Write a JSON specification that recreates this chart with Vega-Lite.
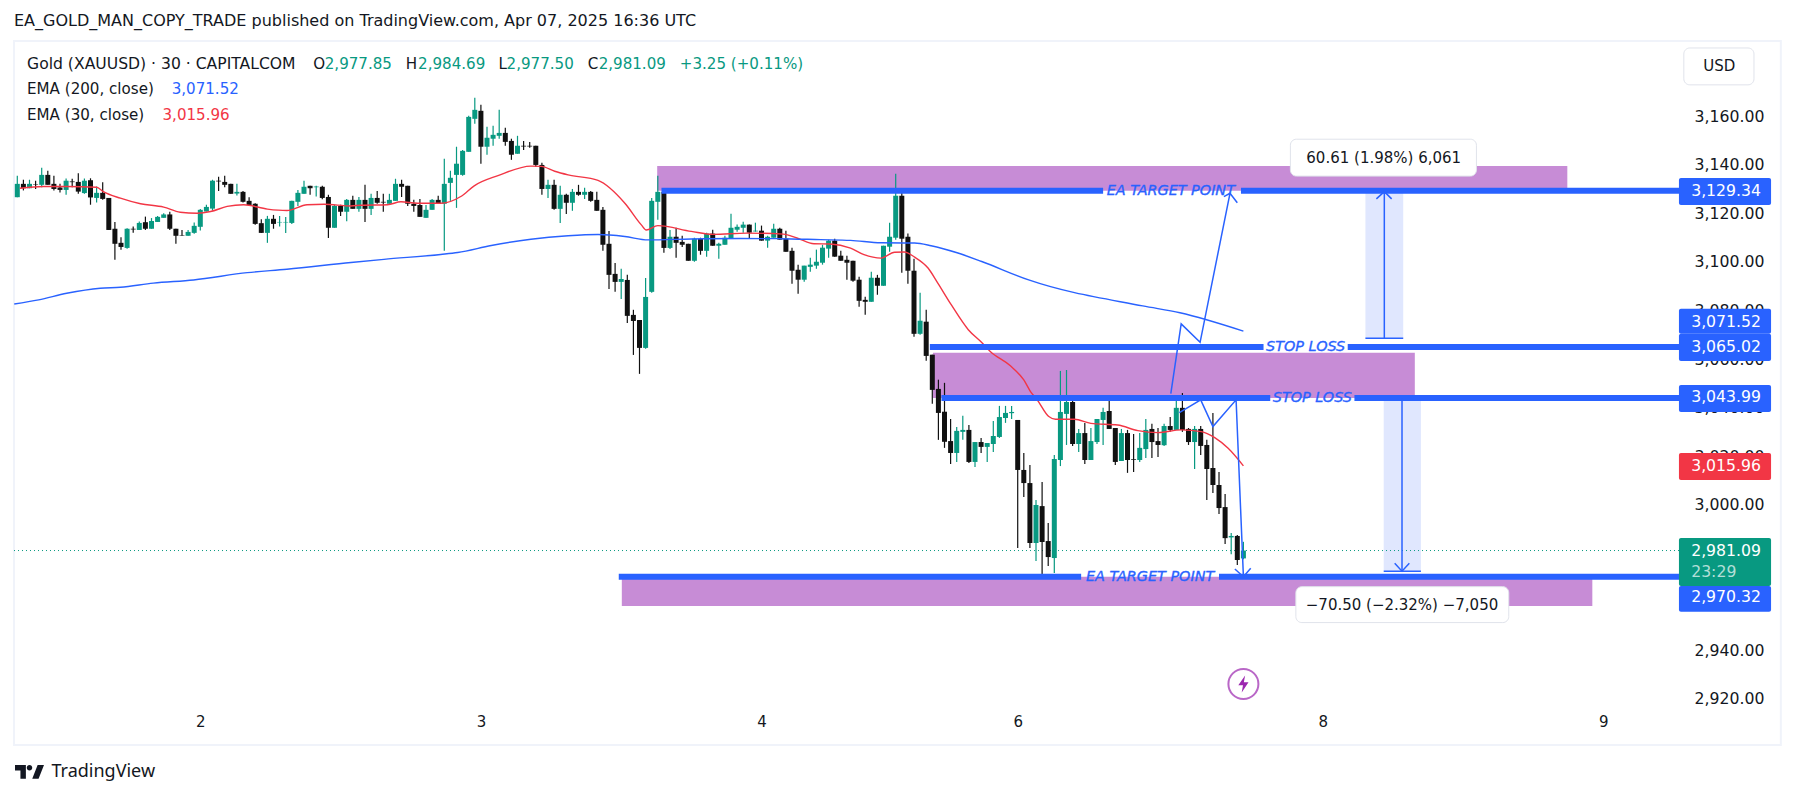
{"$schema":"https://vega.github.io/schema/vega-lite/v6.json","width":1668,"height":666,"autosize":"none","padding":{"left":14,"top":42,"right":111,"bottom":90},"background":"white",
"title":{"text":"EA_GOLD_MAN_COPY_TRADE published on TradingView.com, Apr 07, 2025 16:36 UTC","anchor":"start","frame":"group","font":"DejaVu Sans","fontSize":16,"fontWeight":"normal","color":"#131722","offset":11},
"config":{"view":{"stroke":null},"font":"DejaVu Sans"},
"datasets":{
"ohlc":[{"i":0,"o":3126.7,"h":3135.5,"l":3126.7,"c":3132.2},{"i":1,"o":3132.2,"h":3133.9,"l":3129.5,"c":3130.4},{"i":2,"o":3130.4,"h":3133.9,"l":3130.4,"c":3132.2},{"i":3,"o":3132.0,"h":3133.5,"l":3130.1,"c":3131.8},{"i":4,"o":3131.8,"h":3138.8,"l":3130.8,"c":3135.9},{"i":5,"o":3135.9,"h":3137.6,"l":3131.8,"c":3131.8},{"i":6,"o":3132.2,"h":3135.5,"l":3129.5,"c":3130.1},{"i":7,"o":3130.7,"h":3132.2,"l":3128.6,"c":3129.7},{"i":8,"o":3129.7,"h":3134.4,"l":3127.7,"c":3133.5},{"i":9,"o":3133.2,"h":3134.3,"l":3130.8,"c":3132.9},{"i":10,"o":3133.0,"h":3136.6,"l":3128.1,"c":3129.0},{"i":11,"o":3128.4,"h":3134.4,"l":3128.1,"c":3133.5},{"i":12,"o":3133.7,"h":3134.5,"l":3123.6,"c":3126.6},{"i":13,"o":3126.4,"h":3131.1,"l":3124.5,"c":3128.5},{"i":14,"o":3128.5,"h":3132.9,"l":3125.6,"c":3126.0},{"i":15,"o":3126.4,"h":3126.4,"l":3113.2,"c":3113.2},{"i":16,"o":3113.7,"h":3116.5,"l":3100.9,"c":3107.5},{"i":17,"o":3107.9,"h":3110.2,"l":3105.0,"c":3106.2},{"i":18,"o":3105.8,"h":3113.9,"l":3105.5,"c":3113.7},{"i":19,"o":3113.7,"h":3114.6,"l":3112.1,"c":3113.4},{"i":20,"o":3113.2,"h":3116.7,"l":3113.2,"c":3116.1},{"i":21,"o":3116.4,"h":3118.7,"l":3113.2,"c":3113.7},{"i":22,"o":3113.7,"h":3118.1,"l":3113.7,"c":3116.9},{"i":23,"o":3116.5,"h":3119.0,"l":3116.5,"c":3118.6},{"i":24,"o":3118.2,"h":3120.1,"l":3118.2,"c":3119.6},{"i":25,"o":3119.6,"h":3120.7,"l":3113.2,"c":3113.7},{"i":26,"o":3113.7,"h":3113.7,"l":3107.5,"c":3110.8},{"i":27,"o":3111.0,"h":3113.2,"l":3110.8,"c":3110.8},{"i":28,"o":3110.8,"h":3113.2,"l":3110.8,"c":3112.4},{"i":29,"o":3112.0,"h":3116.3,"l":3111.6,"c":3114.9},{"i":30,"o":3114.5,"h":3121.8,"l":3113.0,"c":3121.5},{"i":31,"o":3120.8,"h":3123.6,"l":3120.8,"c":3122.7},{"i":32,"o":3122.0,"h":3133.9,"l":3121.2,"c":3133.5},{"i":33,"o":3133.5,"h":3135.1,"l":3129.3,"c":3133.2},{"i":34,"o":3133.0,"h":3135.5,"l":3130.8,"c":3131.8},{"i":35,"o":3132.2,"h":3132.2,"l":3128.1,"c":3128.1},{"i":36,"o":3128.2,"h":3132.2,"l":3127.4,"c":3128.9},{"i":37,"o":3128.9,"h":3129.3,"l":3124.5,"c":3124.8},{"i":38,"o":3125.2,"h":3126.7,"l":3123.1,"c":3123.5},{"i":39,"o":3124.0,"h":3124.2,"l":3115.3,"c":3115.7},{"i":40,"o":3116.0,"h":3117.6,"l":3112.0,"c":3112.0},{"i":41,"o":3112.0,"h":3119.0,"l":3107.9,"c":3117.8},{"i":42,"o":3117.8,"h":3119.4,"l":3113.7,"c":3115.7},{"i":43,"o":3116.3,"h":3119.0,"l":3114.6,"c":3116.5},{"i":44,"o":3116.3,"h":3118.5,"l":3112.0,"c":3116.5},{"i":45,"o":3116.1,"h":3125.2,"l":3115.7,"c":3125.2},{"i":46,"o":3124.8,"h":3129.7,"l":3123.1,"c":3128.5},{"i":47,"o":3128.1,"h":3133.5,"l":3128.1,"c":3131.0},{"i":48,"o":3131.4,"h":3131.4,"l":3127.7,"c":3130.4},{"i":49,"o":3130.8,"h":3131.4,"l":3127.0,"c":3131.1},{"i":50,"o":3131.0,"h":3131.4,"l":3125.9,"c":3126.4},{"i":51,"o":3126.8,"h":3127.7,"l":3109.9,"c":3114.1},{"i":52,"o":3114.1,"h":3123.6,"l":3114.1,"c":3123.1},{"i":53,"o":3123.1,"h":3123.6,"l":3119.0,"c":3120.7},{"i":54,"o":3120.7,"h":3126.0,"l":3116.8,"c":3125.6},{"i":55,"o":3125.6,"h":3127.3,"l":3121.9,"c":3121.9},{"i":56,"o":3121.9,"h":3126.8,"l":3120.7,"c":3125.6},{"i":57,"o":3125.6,"h":3131.8,"l":3116.5,"c":3121.9},{"i":58,"o":3121.9,"h":3128.1,"l":3119.4,"c":3126.4},{"i":59,"o":3126.4,"h":3129.3,"l":3124.0,"c":3124.4},{"i":60,"o":3124.8,"h":3128.1,"l":3120.7,"c":3124.5},{"i":61,"o":3124.0,"h":3128.1,"l":3124.0,"c":3125.6},{"i":62,"o":3125.2,"h":3134.3,"l":3125.2,"c":3132.2},{"i":63,"o":3132.2,"h":3133.9,"l":3126.8,"c":3131.0},{"i":64,"o":3131.4,"h":3131.4,"l":3123.1,"c":3124.0},{"i":65,"o":3124.0,"h":3125.6,"l":3120.7,"c":3123.1},{"i":66,"o":3123.5,"h":3126.0,"l":3118.6,"c":3118.6},{"i":67,"o":3118.2,"h":3123.5,"l":3118.2,"c":3121.5},{"i":68,"o":3121.5,"h":3126.0,"l":3121.5,"c":3125.6},{"i":69,"o":3125.6,"h":3127.3,"l":3124.0,"c":3124.0},{"i":70,"o":3124.0,"h":3142.5,"l":3104.6,"c":3132.2},{"i":71,"o":3132.6,"h":3137.6,"l":3125.2,"c":3134.7},{"i":72,"o":3135.9,"h":3147.5,"l":3122.3,"c":3140.5},{"i":73,"o":3135.9,"h":3146.2,"l":3135.5,"c":3145.8},{"i":74,"o":3145.4,"h":3160.3,"l":3145.4,"c":3159.8},{"i":75,"o":3159.0,"h":3167.7,"l":3157.0,"c":3162.7},{"i":76,"o":3162.3,"h":3164.8,"l":3140.5,"c":3147.5},{"i":77,"o":3147.5,"h":3155.7,"l":3144.2,"c":3151.2},{"i":78,"o":3150.8,"h":3156.1,"l":3147.9,"c":3152.4},{"i":79,"o":3152.0,"h":3162.7,"l":3150.8,"c":3153.2},{"i":80,"o":3153.2,"h":3155.3,"l":3147.9,"c":3149.5},{"i":81,"o":3149.9,"h":3150.8,"l":3142.1,"c":3144.2},{"i":82,"o":3144.6,"h":3152.0,"l":3144.6,"c":3147.9},{"i":83,"o":3147.9,"h":3149.9,"l":3146.2,"c":3147.6},{"i":84,"o":3147.9,"h":3149.5,"l":3147.1,"c":3147.6},{"i":85,"o":3147.9,"h":3147.9,"l":3139.2,"c":3140.0},{"i":86,"o":3140.0,"h":3140.9,"l":3127.7,"c":3130.1},{"i":87,"o":3130.1,"h":3133.9,"l":3126.4,"c":3131.8},{"i":88,"o":3131.8,"h":3133.9,"l":3121.5,"c":3121.9},{"i":89,"o":3121.9,"h":3131.4,"l":3116.1,"c":3127.7},{"i":90,"o":3127.7,"h":3128.1,"l":3119.8,"c":3124.4},{"i":91,"o":3124.4,"h":3130.1,"l":3121.1,"c":3128.9},{"i":92,"o":3128.9,"h":3131.8,"l":3127.3,"c":3127.7},{"i":93,"o":3127.7,"h":3130.6,"l":3126.0,"c":3128.9},{"i":94,"o":3128.9,"h":3129.3,"l":3124.8,"c":3125.2},{"i":95,"o":3125.6,"h":3128.9,"l":3121.1,"c":3121.1},{"i":96,"o":3121.5,"h":3122.7,"l":3104.6,"c":3107.1},{"i":97,"o":3107.5,"h":3112.8,"l":3088.9,"c":3094.7},{"i":98,"o":3095.1,"h":3099.6,"l":3087.7,"c":3091.8},{"i":99,"o":3091.8,"h":3097.2,"l":3084.8,"c":3093.0},{"i":100,"o":3092.6,"h":3094.7,"l":3074.9,"c":3077.8},{"i":101,"o":3078.2,"h":3080.3,"l":3061.7,"c":3075.7},{"i":102,"o":3076.1,"h":3076.1,"l":3053.9,"c":3064.6},{"i":103,"o":3064.6,"h":3093.4,"l":3064.2,"c":3085.6},{"i":104,"o":3087.7,"h":3126.4,"l":3087.3,"c":3125.2},{"i":105,"o":3124.8,"h":3135.5,"l":3117.4,"c":3128.9},{"i":106,"o":3128.9,"h":3129.7,"l":3103.8,"c":3105.8},{"i":107,"o":3105.8,"h":3113.2,"l":3105.4,"c":3110.4},{"i":108,"o":3110.4,"h":3114.1,"l":3101.7,"c":3107.9},{"i":109,"o":3108.3,"h":3110.8,"l":3106.2,"c":3107.1},{"i":110,"o":3107.5,"h":3107.5,"l":3100.5,"c":3100.5},{"i":111,"o":3100.5,"h":3110.0,"l":3100.1,"c":3109.6},{"i":112,"o":3109.6,"h":3110.0,"l":3103.0,"c":3104.6},{"i":113,"o":3104.6,"h":3112.1,"l":3102.2,"c":3111.7},{"i":114,"o":3111.7,"h":3113.3,"l":3106.7,"c":3106.7},{"i":115,"o":3106.7,"h":3107.9,"l":3101.3,"c":3107.5},{"i":116,"o":3107.1,"h":3110.8,"l":3107.1,"c":3110.0},{"i":117,"o":3109.6,"h":3119.9,"l":3109.6,"c":3114.1},{"i":118,"o":3113.3,"h":3115.4,"l":3112.5,"c":3114.5},{"i":119,"o":3114.1,"h":3116.6,"l":3112.1,"c":3115.4},{"i":120,"o":3115.4,"h":3115.4,"l":3109.6,"c":3112.1},{"i":121,"o":3112.6,"h":3116.2,"l":3112.5,"c":3112.9},{"i":122,"o":3112.9,"h":3115.0,"l":3108.8,"c":3108.8},{"i":123,"o":3108.8,"h":3110.8,"l":3105.9,"c":3110.4},{"i":124,"o":3110.0,"h":3115.8,"l":3110.0,"c":3113.7},{"i":125,"o":3113.7,"h":3114.1,"l":3109.2,"c":3109.2},{"i":126,"o":3109.6,"h":3112.9,"l":3104.2,"c":3104.2},{"i":127,"o":3104.6,"h":3105.9,"l":3091.0,"c":3096.4},{"i":128,"o":3096.8,"h":3098.9,"l":3086.9,"c":3092.7},{"i":129,"o":3092.7,"h":3098.5,"l":3091.9,"c":3098.5},{"i":130,"o":3098.0,"h":3101.8,"l":3096.0,"c":3098.9},{"i":131,"o":3098.5,"h":3105.1,"l":3097.2,"c":3100.1},{"i":132,"o":3099.7,"h":3107.1,"l":3098.9,"c":3105.9},{"i":133,"o":3105.5,"h":3109.2,"l":3101.8,"c":3108.8},{"i":134,"o":3108.8,"h":3109.6,"l":3102.2,"c":3102.2},{"i":135,"o":3102.6,"h":3104.6,"l":3100.5,"c":3100.5},{"i":136,"o":3100.9,"h":3102.6,"l":3092.7,"c":3099.7},{"i":137,"o":3100.5,"h":3100.5,"l":3091.9,"c":3092.3},{"i":138,"o":3092.7,"h":3093.9,"l":3081.6,"c":3084.0},{"i":139,"o":3084.4,"h":3085.7,"l":3078.3,"c":3083.6},{"i":140,"o":3083.6,"h":3096.0,"l":3083.6,"c":3093.5},{"i":141,"o":3093.5,"h":3094.7,"l":3086.5,"c":3090.2},{"i":142,"o":3090.2,"h":3106.7,"l":3090.2,"c":3106.7},{"i":143,"o":3106.3,"h":3116.2,"l":3104.2,"c":3110.4},{"i":144,"o":3110.0,"h":3136.4,"l":3109.2,"c":3127.3},{"i":145,"o":3127.3,"h":3129.4,"l":3095.6,"c":3109.6},{"i":146,"o":3110.4,"h":3111.7,"l":3091.0,"c":3096.4},{"i":147,"o":3096.4,"h":3101.3,"l":3069.2,"c":3070.4},{"i":148,"o":3070.4,"h":3087.3,"l":3070.0,"c":3075.8},{"i":149,"o":3075.4,"h":3080.3,"l":3059.3,"c":3061.3},{"i":150,"o":3061.8,"h":3061.8,"l":3041.6,"c":3047.3},{"i":151,"o":3047.7,"h":3051.5,"l":3026.7,"c":3037.8},{"i":152,"o":3038.3,"h":3050.2,"l":3023.4,"c":3025.9},{"i":153,"o":3026.2,"h":3035.3,"l":3016.8,"c":3021.3},{"i":154,"o":3021.3,"h":3032.0,"l":3017.6,"c":3030.4},{"i":155,"o":3030.0,"h":3036.6,"l":3026.7,"c":3030.8},{"i":156,"o":3030.8,"h":3032.8,"l":3017.2,"c":3017.6},{"i":157,"o":3017.6,"h":3025.8,"l":3015.5,"c":3025.8},{"i":158,"o":3025.8,"h":3027.5,"l":3021.3,"c":3023.8},{"i":159,"o":3023.8,"h":3025.4,"l":3017.6,"c":3025.4},{"i":160,"o":3025.0,"h":3034.5,"l":3021.7,"c":3028.3},{"i":161,"o":3027.9,"h":3040.7,"l":3027.5,"c":3036.1},{"i":162,"o":3035.7,"h":3040.7,"l":3033.7,"c":3037.8},{"i":163,"o":3037.7,"h":3040.7,"l":3035.3,"c":3038.2},{"i":164,"o":3034.9,"h":3034.9,"l":2982.1,"c":3014.3},{"i":165,"o":3014.3,"h":3021.3,"l":3003.2,"c":3008.9},{"i":166,"o":3008.9,"h":3016.3,"l":2982.1,"c":2984.2},{"i":167,"o":2984.2,"h":3001.9,"l":2976.8,"c":2999.9},{"i":168,"o":2999.4,"h":3009.3,"l":2970.2,"c":2984.6},{"i":169,"o":2985.0,"h":2992.4,"l":2974.7,"c":2978.4},{"i":170,"o":2978.0,"h":3020.5,"l":2971.8,"c":3018.8},{"i":171,"o":3018.4,"h":3055.1,"l":3015.9,"c":3038.2},{"i":172,"o":3037.4,"h":3055.5,"l":3024.6,"c":3042.3},{"i":173,"o":3042.3,"h":3044.8,"l":3024.2,"c":3025.0},{"i":174,"o":3025.0,"h":3031.2,"l":3021.7,"c":3029.5},{"i":175,"o":3029.5,"h":3033.7,"l":3016.8,"c":3018.4},{"i":176,"o":3018.4,"h":3031.6,"l":3018.4,"c":3026.2},{"i":177,"o":3025.8,"h":3035.3,"l":3025.0,"c":3035.3},{"i":178,"o":3034.9,"h":3039.9,"l":3024.6,"c":3038.2},{"i":179,"o":3038.6,"h":3044.4,"l":3031.2,"c":3031.2},{"i":180,"o":3031.6,"h":3031.6,"l":3016.3,"c":3017.6},{"i":181,"o":3018.0,"h":3031.2,"l":3018.0,"c":3029.5},{"i":182,"o":3029.5,"h":3030.8,"l":3013.1,"c":3018.4},{"i":183,"o":3018.8,"h":3029.1,"l":3013.5,"c":3018.5},{"i":184,"o":3018.4,"h":3029.5,"l":3017.6,"c":3023.4},{"i":185,"o":3022.9,"h":3035.3,"l":3019.2,"c":3030.8},{"i":186,"o":3031.2,"h":3033.3,"l":3019.2,"c":3025.8},{"i":187,"o":3026.2,"h":3031.6,"l":3019.6,"c":3024.6},{"i":188,"o":3024.5,"h":3033.3,"l":3024.2,"c":3032.4},{"i":189,"o":3032.4,"h":3036.1,"l":3030.0,"c":3030.8},{"i":190,"o":3030.8,"h":3044.0,"l":3030.8,"c":3039.9},{"i":191,"o":3039.9,"h":3046.0,"l":3030.0,"c":3030.8},{"i":192,"o":3031.2,"h":3031.6,"l":3024.6,"c":3025.8},{"i":193,"o":3025.8,"h":3032.4,"l":3014.7,"c":3031.2},{"i":194,"o":3031.2,"h":3032.4,"l":3020.5,"c":3024.2},{"i":195,"o":3024.6,"h":3026.7,"l":3001.9,"c":3014.7},{"i":196,"o":3015.1,"h":3037.8,"l":3004.8,"c":3008.1},{"i":197,"o":3008.1,"h":3013.5,"l":2996.1,"c":2998.6},{"i":198,"o":2999.0,"h":3004.4,"l":2983.8,"c":2986.2},{"i":199,"o":2986.5,"h":2988.3,"l":2979.6,"c":2987.1},{"i":200,"o":2987.1,"h":2987.5,"l":2975.1,"c":2977.2},{"i":201,"o":2977.85,"h":2984.69,"l":2977.5,"c":2981.09}],
"ema":[{"s":"e30","i":0.4,"p":3130.4},{"s":"e30","i":4.3,"p":3131.1},{"s":"e30","i":8.1,"p":3131.1},{"s":"e30","i":13,"p":3130.8},{"s":"e30","i":14.1,"p":3129.0},{"s":"e30","i":16.9,"p":3126.3},{"s":"e30","i":20.2,"p":3124.0},{"s":"e30","i":24,"p":3122.6},{"s":"e30","i":26.7,"p":3120.5},{"s":"e30","i":29.5,"p":3120.1},{"s":"e30","i":31.7,"p":3120.8},{"s":"e30","i":34.4,"p":3122.9},{"s":"e30","i":37.1,"p":3123.6},{"s":"e30","i":41,"p":3121.8},{"s":"e30","i":44.2,"p":3121.2},{"s":"e30","i":47.5,"p":3123.6},{"s":"e30","i":50.3,"p":3123.8},{"s":"e30","i":54.7,"p":3123.1},{"s":"e30","i":56.3,"p":3123.4},{"s":"e30","i":60.7,"p":3123.6},{"s":"e30","i":62.9,"p":3124.8},{"s":"e30","i":65.6,"p":3124.2},{"s":"e30","i":69.4,"p":3124.2},{"s":"e30","i":72.7,"p":3127.0},{"s":"e30","i":74.9,"p":3131.4},{"s":"e30","i":78.8,"p":3135.6},{"s":"e30","i":84.2,"p":3139.5},{"s":"e30","i":85.9,"p":3139.4},{"s":"e30","i":88.1,"p":3137.4},{"s":"e30","i":90.3,"p":3135.9},{"s":"e30","i":95.2,"p":3133.6},{"s":"e30","i":99.6,"p":3124.2},{"s":"e30","i":102.3,"p":3115.3},{"s":"e30","i":103.1,"p":3113.2},{"s":"e30","i":105,"p":3115.0},{"s":"e30","i":110.5,"p":3112.6},{"s":"e30","i":114.1,"p":3111.4},{"s":"e30","i":119.6,"p":3111.9},{"s":"e30","i":125.6,"p":3111.5},{"s":"e30","i":127.8,"p":3109.9},{"s":"e30","i":130.6,"p":3107.5},{"s":"e30","i":133.3,"p":3107.4},{"s":"e30","i":136.6,"p":3105.7},{"s":"e30","i":138.8,"p":3103.0},{"s":"e30","i":141.6,"p":3101.6},{"s":"e30","i":143.8,"p":3104.0},{"s":"e30","i":145.4,"p":3104.1},{"s":"e30","i":147.1,"p":3102.0},{"s":"e30","i":149.3,"p":3097.5},{"s":"e30","i":150.9,"p":3091.3},{"s":"e30","i":153.1,"p":3082.4},{"s":"e30","i":155.9,"p":3072.1},{"s":"e30","i":158.1,"p":3066.8},{"s":"e30","i":159.5,"p":3063.1},{"s":"e30","i":162.8,"p":3057.2},{"s":"e30","i":165,"p":3051.4},{"s":"e30","i":166.1,"p":3046.6},{"s":"e30","i":167.2,"p":3043.2},{"s":"e30","i":169.1,"p":3036.3},{"s":"e30","i":170.2,"p":3035.2},{"s":"e30","i":173.3,"p":3035.2},{"s":"e30","i":176,"p":3033.5},{"s":"e30","i":180.4,"p":3032.8},{"s":"e30","i":183.7,"p":3030.5},{"s":"e30","i":187,"p":3029.7},{"s":"e30","i":190.8,"p":3030.8},{"s":"e30","i":194.1,"p":3030.1},{"s":"e30","i":196.3,"p":3027.6},{"s":"e30","i":198.5,"p":3023.2},{"s":"e30","i":201,"p":3015.96},
{"s":"e200","i":-0.5,"p":3082.7},{"s":"e200","i":3.5,"p":3084.4},{"s":"e200","i":8.1,"p":3087.1},{"s":"e200","i":13.6,"p":3089.2},{"s":"e200","i":16.9,"p":3089.6},{"s":"e200","i":22.3,"p":3091.3},{"s":"e200","i":28.9,"p":3092.6},{"s":"e200","i":37.7,"p":3095.6},{"s":"e200","i":44.2,"p":3097.0},{"s":"e200","i":54.7,"p":3099.8},{"s":"e200","i":60.1,"p":3101.1},{"s":"e200","i":69.4,"p":3103.1},{"s":"e200","i":72.2,"p":3103.9},{"s":"e200","i":77.7,"p":3106.8},{"s":"e200","i":84.2,"p":3109.4},{"s":"e200","i":90.3,"p":3110.8},{"s":"e200","i":95.2,"p":3111.3},{"s":"e200","i":99.6,"p":3110.5},{"s":"e200","i":103.4,"p":3109.1},{"s":"e200","i":110.5,"p":3109.5},{"s":"e200","i":118.5,"p":3109.7},{"s":"e200","i":125.1,"p":3109.6},{"s":"e200","i":131.7,"p":3109.2},{"s":"e200","i":136.6,"p":3108.9},{"s":"e200","i":141.6,"p":3107.9},{"s":"e200","i":147.1,"p":3107.8},{"s":"e200","i":149.8,"p":3106.7},{"s":"e200","i":154.2,"p":3103.7},{"s":"e200","i":158.1,"p":3100.2},{"s":"e200","i":165.8,"p":3092.6},{"s":"e200","i":184.5,"p":3081.9},{"s":"e200","i":190.6,"p":3079.1},{"s":"e200","i":201,"p":3071.52}],
"zones":[{"i":104.9,"i2":254.1,"p":3139.6,"p2":3129.34},{"i":150.1,"i2":229.1,"p":3062.6,"p2":3044},{"i":99.1,"i2":258.2,"p":2970.3,"p2":2958.2}],
"levels":[{"p":3129.34,"i":105.6,"i2":178},{"p":3129.34,"i":200.6,"i2":272.9},{"p":3065.02,"i":149.6,"i2":204.3},{"p":3065.02,"i":218.1,"i2":272.9},{"p":3043.99,"i":151.5,"i2":205.4},{"p":3043.99,"i":219.2,"i2":272.9},{"p":2970.32,"i":98.6,"i2":174.4},{"p":2970.32,"i":197,"i2":272.9}],
"levelText":[{"t":"EA TARGET POINT","i":189.1,"p":3129.34},{"t":"EA TARGET POINT","i":185.7,"p":2970.32},{"t":"STOP LOSS","i":211.2,"p":3065.02},{"t":"STOP LOSS","i":212.3,"p":3043.99}],
"measure":[{"i":221,"i2":227.2,"p":3129.34,"p2":3068.6},{"i":224,"i2":230.1,"p":3043.99,"p2":2972.6}],
"paths":[{"g":"a","k":0,"i":189.1,"p":3045.8},{"g":"a","k":1,"i":190.8,"p":3074.5},{"g":"a","k":2,"i":193.9,"p":3066.9},{"g":"a","k":3,"i":198.8,"p":3128.3},{"g":"ah","k":0,"i":197.8,"p":3126.9},{"g":"ah","k":1,"i":198.8,"p":3128.3},{"g":"ah","k":2,"i":200,"p":3124.4},{"g":"b","k":0,"i":190.5,"p":3037.9},{"g":"b","k":1,"i":194,"p":3043.2},{"g":"b","k":2,"i":196,"p":3032.2},{"g":"b","k":3,"i":199.8,"p":3043.2},{"g":"b","k":4,"i":201,"p":2970.3},{"g":"bh","k":0,"i":199.6,"p":2973.5},{"g":"bh","k":1,"i":201,"p":2970.3},{"g":"bh","k":2,"i":202.2,"p":2973.8},{"g":"m1","k":0,"i":224.1,"p":3068.6},{"g":"m1","k":1,"i":224.1,"p":3129},{"g":"m1h","k":0,"i":222.8,"p":3126},{"g":"m1h","k":1,"i":224.1,"p":3129},{"g":"m1h","k":2,"i":225.3,"p":3126},{"g":"m1b","k":0,"i":221,"p":3068.6},{"g":"m1b","k":1,"i":227.2,"p":3068.6},{"g":"m2","k":0,"i":227,"p":3043.9},{"g":"m2","k":1,"i":227,"p":2972.6},{"g":"m2h","k":0,"i":225.8,"p":2975.9},{"g":"m2h","k":1,"i":227,"p":2972.6},{"g":"m2h","k":2,"i":228.2,"p":2975.9},{"g":"m2b","k":0,"i":224,"p":2972.6},{"g":"m2b","k":1,"i":230.1,"p":2972.6}],
"callouts":[{"i":208.7,"i2":239.2,"p":3150.6,"p2":3135.4},{"i":209.6,"i2":244.5,"p":2966.2,"p2":2951.4},{"i":273.2,"i2":284.7,"p":3188.2,"p2":3173}],
"calloutText":[{"t":"60.61 (1.98%) 6,061","i":224,"p":3143},{"t":"−70.50 (−2.32%) −7,050","i":227,"p":2958.8},{"t":"USD","i":279,"p":3180.6}],
"tags":[{"k":"blue","i":272.4,"i2":287.5,"p":3134.6,"p2":3123.5},{"k":"blue","i":272.4,"i2":287.5,"p":3080.7,"p2":3070.4},{"k":"blue","i":272.4,"i2":287.5,"p":3070.4,"p2":3059.2},{"k":"blue","i":272.4,"i2":287.5,"p":3049.3,"p2":3038.2},{"k":"red","i":272.4,"i2":287.5,"p":3021.3,"p2":3010.2},{"k":"up","i":272.4,"i2":287.5,"p":2986.3,"p2":2966.5},{"k":"blue","i":272.4,"i2":287.5,"p":2966.5,"p2":2955.9}],
"tagText":[{"t":"3,129.34","i":274.4,"p":3129.4},{"t":"3,071.52","i":274.4,"p":3075.4},{"t":"3,065.02","i":274.4,"p":3065.1},{"t":"3,043.99","i":274.4,"p":3044.4},{"t":"3,015.96","i":274.4,"p":3016.1},{"t":"2,981.09","i":274.4,"p":2981},{"t":"23:29","i":274.4,"p":2972.4},{"t":"2,970.32","i":274.4,"p":2962.1}],
"legendText":[{"t":"Gold (XAUUSD) · 30 · CAPITALCOM","i":1.6,"p":3181.6,"k":"ink"},{"t":"O","i":48.5,"p":3181.6,"k":"ink"},{"t":"2,977.85","i":50.4,"p":3181.6,"k":"up"},{"t":"H","i":63.7,"p":3181.6,"k":"ink"},{"t":"2,984.69","i":65.7,"p":3181.6,"k":"up"},{"t":"L","i":78.9,"p":3181.6,"k":"ink"},{"t":"2,977.50","i":80.2,"p":3181.6,"k":"up"},{"t":"C","i":93.5,"p":3181.6,"k":"ink"},{"t":"2,981.09","i":95.3,"p":3181.6,"k":"up"},{"t":"+3.25 (+0.11%)","i":108.6,"p":3181.6,"k":"up"},{"t":"EMA (200, close)","i":1.6,"p":3171.3,"k":"ink"},{"t":"3,071.52","i":25.3,"p":3171.3,"k":"blue"},{"t":"EMA (30, close)","i":1.6,"p":3160.4,"k":"ink"},{"t":"3,015.96","i":23.8,"p":3160.4,"k":"red"}]
},
"layer":[
{"data":{"values":[{"i":-0.54,"i2":289.1,"p":3191.1,"p2":2901}]},"mark":{"type":"rect","fill":null,"stroke":"#f0f3fa","strokeWidth":2,"clip":false},"encoding":{"x":{"field":"i","type":"quantitative","scale":{"domain":[-0.541,272.9],"nice":false,"zero":false,"padding":0},"axis":{"values":[30,76,122,164,214,260],"labelExpr":"datum.value==30?'2':datum.value==76?'3':datum.value==122?'4':datum.value==164?'6':datum.value==214?'8':'9'","title":null,"grid":false,"ticks":false,"domain":false,"labelPadding":6,"labelFontSize":15,"labelColor":"#131722","labelFont":"DejaVu Sans","labelFlush":false,"labelOverlap":false}},"x2":{"field":"i2"},"y":{"field":"p","type":"quantitative","scale":{"domain":[2916.2,3190.66],"nice":false,"zero":false},"axis":{"orient":"right","values":[2920,2940,2960,2980,3000,3020,3040,3060,3080,3100,3120,3140,3160],"format":",.2f","title":null,"grid":false,"ticks":false,"domain":false,"labelPadding":12,"labelFontSize":15.7,"labelColor":"#131722","labelFont":"DejaVu Sans","labelOverlap":false}},"y2":{"field":"p2"}}},
{"data":{"name":"zones"},"mark":{"type":"rect","fill":"#c78cd6","clip":false},"encoding":{"x":{"field":"i","type":"quantitative"},"x2":{"field":"i2"},"y":{"field":"p","type":"quantitative"},"y2":{"field":"p2"}}},
{"data":{"name":"measure"},"mark":{"type":"rect","fill":"#e0e7fe"},"encoding":{"x":{"field":"i","type":"quantitative"},"x2":{"field":"i2"},"y":{"field":"p","type":"quantitative"},"y2":{"field":"p2"}}},
{"data":{"values":[{"i":-0.54,"i2":272.9,"p":2981.09}]},"mark":{"type":"rule","stroke":"#089981","strokeWidth":1,"strokeDash":[1,3]},"encoding":{"x":{"field":"i","type":"quantitative"},"x2":{"field":"i2"},"y":{"field":"p","type":"quantitative"}}},
{"data":{"name":"ohlc"},"mark":{"type":"rule","strokeWidth":1.2},"encoding":{"x":{"field":"i","type":"quantitative"},"y":{"field":"l","type":"quantitative"},"y2":{"field":"h"},"color":{"condition":{"test":"datum.c>=datum.o","value":"#089981"},"value":"#111111"}}},
{"data":{"name":"ohlc"},"mark":{"type":"bar","size":5,"orient":"vertical"},"encoding":{"x":{"field":"i","type":"quantitative"},"y":{"field":"o","type":"quantitative"},"y2":{"field":"c"},"color":{"condition":{"test":"datum.c>=datum.o","value":"#089981"},"value":"#111111"}}},
{"data":{"name":"ema"},"mark":{"type":"line","strokeWidth":1.4,"interpolate":"monotone"},"encoding":{"x":{"field":"i","type":"quantitative"},"y":{"field":"p","type":"quantitative"},"color":{"field":"s","type":"nominal","scale":{"domain":["e30","e200"],"range":["#f23645","#2962ff"]},"legend":null}}},
{"data":{"name":"levels"},"mark":{"type":"rule","stroke":"#2962ff","strokeWidth":6},"encoding":{"x":{"field":"i","type":"quantitative"},"x2":{"field":"i2"},"y":{"field":"p","type":"quantitative"}}},
{"data":{"name":"levelText"},"mark":{"type":"text","font":"DejaVu Sans","fontStyle":"italic","fontSize":14.4,"fill":"#2962ff","stroke":"#2962ff","strokeWidth":0.35,"align":"center","baseline":"middle"},"encoding":{"x":{"field":"i","type":"quantitative"},"y":{"field":"p","type":"quantitative"},"text":{"field":"t"}}},
{"data":{"name":"paths"},"mark":{"type":"line","stroke":"#2962ff","strokeWidth":1.5},"encoding":{"x":{"field":"i","type":"quantitative"},"y":{"field":"p","type":"quantitative"},"detail":{"field":"g"},"order":{"field":"k"}}},
{"data":{"name":"tags"},"mark":{"type":"rect","cornerRadius":2,"clip":false},"encoding":{"x":{"field":"i","type":"quantitative"},"x2":{"field":"i2"},"y":{"field":"p","type":"quantitative"},"y2":{"field":"p2"},"fill":{"field":"k","type":"nominal","scale":{"domain":["ink","up","blue","red"],"range":["#131722","#089981","#2962ff","#f23645"]},"legend":null}}},
{"data":{"name":"tagText"},"mark":{"type":"text","font":"DejaVu Sans","fontSize":15.7,"fill":"white","align":"left","baseline":"middle"},"encoding":{"x":{"field":"i","type":"quantitative"},"y":{"field":"p","type":"quantitative"},"text":{"field":"t"},"fillOpacity":{"condition":{"test":"datum.t=='23:29'","value":0.7},"value":1}}},
{"data":{"name":"callouts"},"mark":{"type":"rect","fill":"white","stroke":"#e0e3eb","strokeWidth":1,"cornerRadius":6},"encoding":{"x":{"field":"i","type":"quantitative"},"x2":{"field":"i2"},"y":{"field":"p","type":"quantitative"},"y2":{"field":"p2"}}},
{"data":{"name":"calloutText"},"mark":{"type":"text","font":"DejaVu Sans","fontSize":15,"fill":"#131722","align":"center","baseline":"middle"},"encoding":{"x":{"field":"i","type":"quantitative"},"y":{"field":"p","type":"quantitative"},"text":{"field":"t"}}},
{"data":{"name":"legendText"},"mark":{"type":"text","font":"DejaVu Sans","align":"left","baseline":"middle"},"encoding":{"x":{"field":"i","type":"quantitative"},"y":{"field":"p","type":"quantitative"},"text":{"field":"t"},"size":{"condition":{"test":"indexof(datum.t,'Gold')==0","value":15.6},"value":15.1},"fill":{"field":"k","type":"nominal","scale":{"domain":["ink","up","blue","red"],"range":["#131722","#089981","#2962ff","#f23645"]},"legend":null}}},
{"data":{"values":[{"i":201,"p":2926.1}]},"mark":{"type":"point","shape":"circle","size":900,"stroke":"#9c27b0","strokeWidth":2,"fill":"white","filled":false},"encoding":{"x":{"field":"i","type":"quantitative"},"y":{"field":"p","type":"quantitative"}}},
{"data":{"values":[{"i":201,"p":2926.1}]},"mark":{"type":"point","shape":"M0.2,-1L-0.6,0.15H-0.05L-0.2,1L0.6,-0.2H0.05Z","size":290,"fill":"#9c27b0","filled":true,"opacity":1},"encoding":{"x":{"field":"i","type":"quantitative"},"y":{"field":"p","type":"quantitative"}}},
{"data":{"values":[{"i":2,"p":2889.9}]},"mark":{"type":"point","shape":"M-1,-0.47H-0.25V0.47H-0.625V-0.09H-1ZM0.625,0.47H0.19L0.56,-0.47H1ZM0.19,-0.28A0.19,0.19 0 1 0 -0.19,-0.28A0.19,0.19 0 1 0 0.19,-0.28Z","size":841,"fill":"#131722","filled":true,"opacity":1,"clip":false},"encoding":{"x":{"field":"i","type":"quantitative"},"y":{"field":"p","type":"quantitative"}}},
{"data":{"values":[{"t":"TradingView","i":5.6,"p":2889.9}]},"mark":{"type":"text","font":"Noto Sans","fontSize":18,"fill":"#131722","align":"left","baseline":"middle"},"encoding":{"x":{"field":"i","type":"quantitative"},"y":{"field":"p","type":"quantitative"},"text":{"field":"t"}}}
]}
